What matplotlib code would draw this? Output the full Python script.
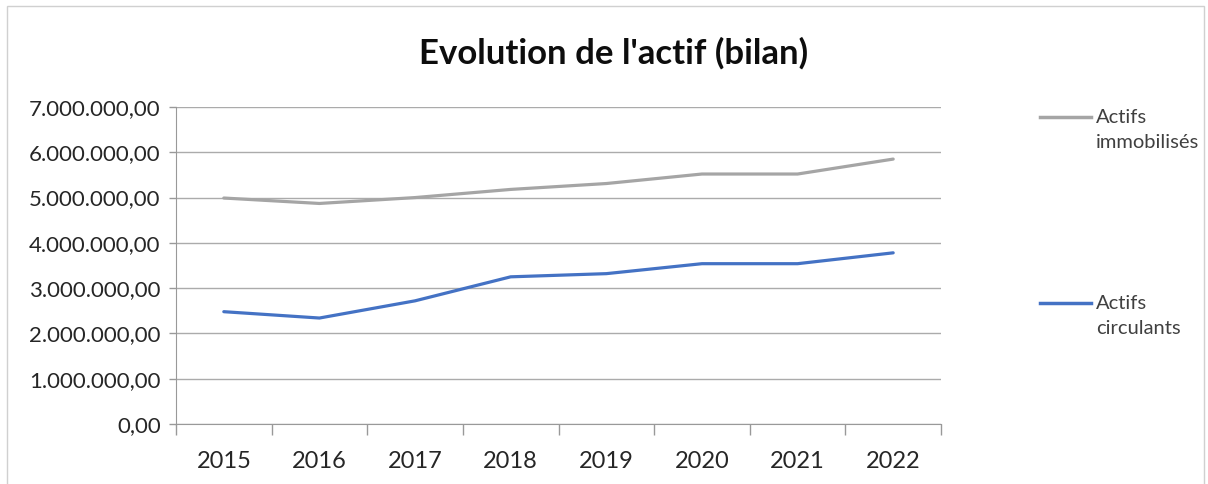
import numpy as np, matplotlib
matplotlib.use('Agg'); import matplotlib.pyplot as plt
from matplotlib.lines import Line2D
from matplotlib.patches import Rectangle
from matplotlib.ticker import FuncFormatter

years = ['2015', '2016', '2017', '2018', '2019', '2020', '2021', '2022']
immobilises = [4990000, 4870000, 5000000, 5180000, 5310000, 5520000, 5520000, 5850000]
circulants = [2480000, 2340000, 2720000, 3250000, 3320000, 3540000, 3540000, 3780000]
series_names = ['Actifs\nimmobilisés', 'Actifs\ncirculants']
colors = ['#A5A5A5', '#4472C4']

plt.rcParams['font.family'] = ['Lato', 'DejaVu Sans']

fig = plt.figure(figsize=(12.08, 4.84), dpi=100)
ax = fig.add_axes([176/1208, 1-424/484, (941-176)/1208, (424-107)/484])

x = np.arange(len(years))
for vals, c in zip([immobilises, circulants], colors):
    ax.plot(x, vals, color=c, lw=2.3, solid_capstyle='round')

ax.set_xlim(-0.5, len(years)-0.5)
ax.set_ylim(0, 7000000)
ax.set_yticks(np.arange(0, 7000001, 1000000))
fmt = lambda v, p: '{:,.2f}'.format(v).replace(',', 'X').replace('.', ',').replace('X', '.')
ax.yaxis.set_major_formatter(FuncFormatter(fmt))
ax.set_xticks(x)
ax.set_xticklabels(years, fontsize=17, color='#262626')
ax.set_xticks(np.arange(-0.5, len(years)), minor=True)
ax.tick_params(axis='x', which='major', length=0, pad=19.5)
ax.tick_params(axis='x', which='minor', length=8, color='#999999', width=1)
ax.tick_params(axis='y', length=5, color='#999999', width=1, labelsize=16, pad=6,
               labelcolor='#262626')
ax.grid(axis='y', color='#ababab', lw=1)
ax.set_axisbelow(True)
for s in ['top', 'right']:
    ax.spines[s].set_visible(False)
ax.spines['left'].set_color('#999999')
ax.spines['bottom'].set_color('#999999')

fig.text(614/1208, 1-53/484, "Evolution de l'actif (bilan)", ha='center', va='center',
         fontsize=25, fontweight='bold', color='#0d0d0d')

# legend
leg_y = [117, 303]
for name, c, yy in zip(series_names, colors, leg_y):
    fig.add_artist(Line2D([1040/1208, 1091/1208], [1-yy/484, 1-yy/484], color=c, lw=2.5,
                          transform=fig.transFigure))
    fig.text(1096/1208, 1-(yy-8)/484, name, ha='left', va='top', fontsize=14.5,
             linespacing=1.55, color='#404040')

fig.add_artist(Rectangle((7/1208, -0.01), 1197/1208, 1-6/484+0.01, transform=fig.transFigure,
                         fill=False, edgecolor='#d0d0d0', lw=1))

fig.savefig('out.png', dpi=100)
